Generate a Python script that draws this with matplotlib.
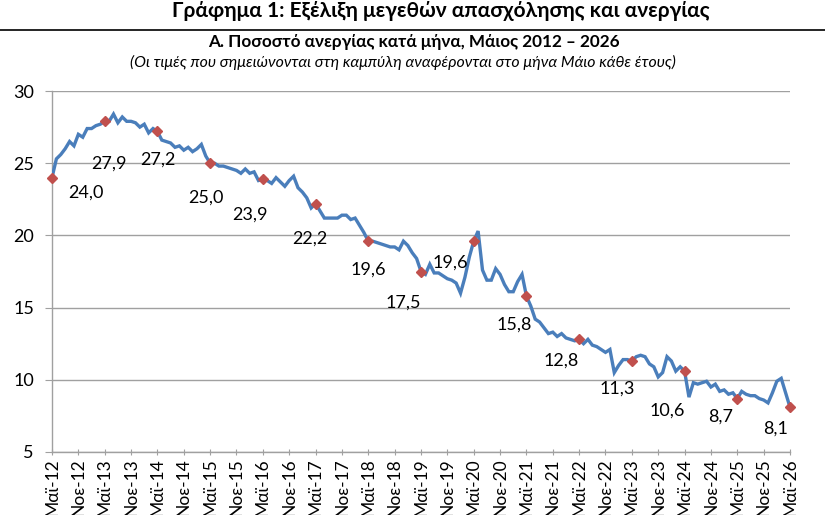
import matplotlib
matplotlib.use("Agg")
import matplotlib.pyplot as plt

plt.rcParams['font.family'] = ['Lato', 'Noto Sans', 'DejaVu Sans']

# Monthly unemployment rate, May 2012 ... May 2026 (169 months)
rate_2012 = [24.0, 25.3, 25.6, 26.0, 26.5, 26.2, 27.0, 26.8, 27.4, 27.4, 27.6, 27.7]
rate_2013 = [27.9, 27.9, 28.4, 27.8, 28.2, 27.9, 27.9, 27.8, 27.5, 27.7, 27.1, 27.4]
rate_2014 = [27.2, 26.6, 26.5, 26.4, 26.1, 26.2, 25.9, 26.1, 25.8, 26.0, 26.3, 25.5]
rate_2015 = [25.0, 25.0, 24.8, 24.8, 24.7, 24.6, 24.5, 24.3, 24.6, 24.3, 24.4, 23.8]
rate_2016 = [23.9, 23.8, 23.6, 24.0, 23.7, 23.4, 23.8, 24.1, 23.3, 23.0, 22.6, 21.9]
rate_2017 = [22.2, 21.7, 21.2, 21.2, 21.2, 21.2, 21.4, 21.4, 21.1, 21.2, 20.7, 20.2]
rate_2018 = [19.6, 19.6, 19.5, 19.4, 19.3, 19.2, 19.2, 19.0, 19.6, 19.3, 18.8, 18.4]
rate_2019 = [17.5, 17.3, 18.0, 17.4, 17.4, 17.2, 17.0, 16.9, 16.7, 16.0, 17.1, 18.5]
rate_2020 = [19.6, 20.3, 17.6, 16.9, 16.9, 17.7, 17.3, 16.6, 16.1, 16.1, 16.8, 17.3]
rate_2021 = [15.8, 15.1, 14.2, 14.0, 13.6, 13.2, 13.3, 13.0, 13.2, 12.9, 12.8, 12.7]
rate_2022 = [12.8, 12.5, 12.8, 12.4, 12.3, 12.1, 11.9, 12.1, 10.5, 11.0, 11.4, 11.4]
rate_2023 = [11.3, 11.6, 11.7, 11.6, 11.1, 10.9, 10.2, 10.5, 11.6, 11.3, 10.6, 10.9]
rate_2024 = [10.6, 8.8, 9.8, 9.7, 9.8, 9.9, 9.5, 9.7, 9.2, 9.3, 9.0, 9.1]
rate_2025 = [8.7, 9.2, 9.0, 8.9, 8.9, 8.7, 8.6, 8.4, 9.1, 9.9, 10.1, 9.1]
rate_2026 = [8.1]

rate = (rate_2012 + rate_2013 + rate_2014 + rate_2015 + rate_2016 + rate_2017 +
        rate_2018 + rate_2019 + rate_2020 + rate_2021 + rate_2022 + rate_2023 +
        rate_2024 + rate_2025 + rate_2026)

years = list(range(12, 27))
tick_labels = []
for y in years:
    tick_labels.append(f"Μαϊ-{y}")
    if y != 26:
        tick_labels.append(f"Νοε-{y}")

# label offsets (pixels) for the May annotations
label_offsets = [(34, -15), (4, -42), (0, -28), (-4, -34), (-13, -36), (-6, -35),
                 (0, -28), (-18, -31), (-23, -21), (-12, -29), (-18, -21),
                 (-15, -28), (-17, -39), (-17, -18), (-14, -21)]

fig = plt.figure(figsize=(8.25, 5.15), dpi=100)
ax = fig.add_axes([52/825, 1-452/515, (790-52)/825, (452-91)/515])

x = list(range(len(rate)))
ax.plot(x, rate, color='#4A7EBB', lw=2.4, zorder=3, solid_joinstyle='miter')
may_idx = list(range(0, len(rate), 12))
may_vals = [rate[i] for i in may_idx]
ax.plot(may_idx, may_vals, linestyle='none', marker='D', ms=5.5,
        color='#C0504D', zorder=4, clip_on=False)
for i, v, (dx, dy) in zip(may_idx, may_vals, label_offsets):
    ax.annotate(f"{v:.1f}".replace('.', ','), (i, v), xytext=(dx, dy),
                textcoords='offset pixels', ha='center', va='center',
                fontsize=13, color='black')

ax.set_xlim(0, len(rate) - 1)
ax.set_ylim(5, 30)
ax.set_yticks([5, 10, 15, 20, 25, 30])
ax.set_xticks(range(0, len(rate), 6))
ax.set_xticklabels(tick_labels, rotation=90, fontsize=12.5)
ax.tick_params(axis='y', labelsize=13, length=5, color='#A0A0A0', pad=8)
ax.tick_params(axis='x', length=5, direction='inout', color='#A0A0A0', pad=2)
ax.grid(axis='y', color='#A0A0A0', lw=1)
ax.set_axisbelow(True)
for s in ['top', 'right']:
    ax.spines[s].set_visible(False)
for s in ['left', 'bottom']:
    ax.spines[s].set_color('#A0A0A0')
    ax.spines[s].set_linewidth(1)

fig.text(441/825, 1-11/515, "Γράφημα 1: Εξέλιξη μεγεθών απασχόλησης και ανεργίας",
         ha='center', va='center', fontsize=15, fontweight='bold')
fig.add_artist(plt.Line2D([0, 1], [1-30/515, 1-30/515], color='black', lw=1.2))
fig.text(414/825, 1-42/515, "Α. Ποσοστό ανεργίας κατά μήνα, Μάιος 2012 – 2026",
         ha='center', va='center', fontsize=12.3, fontweight='bold')
fig.text(403/825, 1-62/515,
         "(Οι τιμές που σημειώνονται στη καμπύλη αναφέρονται στο μήνα Μάιο κάθε έτους)",
         ha='center', va='center', fontsize=11.4, style='italic')

fig.savefig('out.png', dpi=100)
